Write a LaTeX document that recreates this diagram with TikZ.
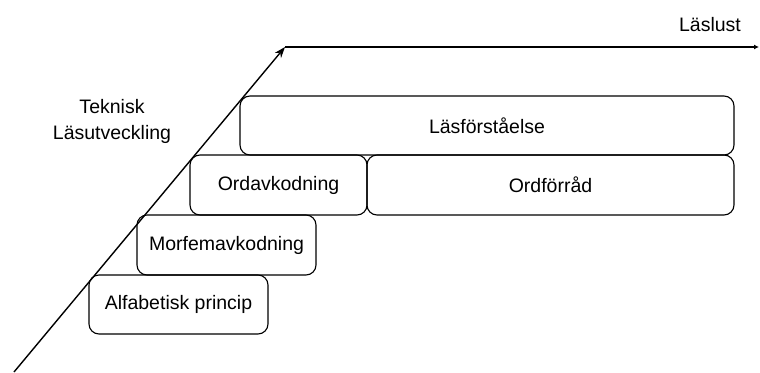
\documentclass[tikz,border=0pt]{standalone}
\usepackage{fontspec}
\setmainfont{Liberation Sans}
\usetikzlibrary{arrows.meta}
\begin{document}
\begin{tikzpicture}[x=1pt,y=-1pt,
  stepbox/.style={draw=black,line width=1.1pt,rounded corners=10pt,inner sep=0pt,
    font=\fontsize{19.5}{23}\selectfont},
  lbl/.style={inner sep=0pt,font=\fontsize{19.5}{26}\selectfont,align=center},
  axis/.style={line width=1.4pt}]
\useasboundingbox (0,0) rectangle (760,372);
\node[stepbox,minimum width=494pt,minimum height=59pt] (L) at (487,125.5) {Läsförståelse};
\node[stepbox,minimum width=177pt,minimum height=60pt] (O) at (278.5,185) {Ordavkodning};
\node[stepbox,minimum width=367pt,minimum height=60pt] (F) at (550.5,185) {Ordförråd};
\node[stepbox,minimum width=179pt,minimum height=60pt] (M) at (226.5,245) {Morfemavkodning};
\node[stepbox,minimum width=179pt,minimum height=59pt] (A) at (178.5,304.5) {Alfabetisk princip};
\node[lbl] (T) at (112,121) {Teknisk\\Läsutveckling};
\node[lbl] (LL) at (710,25) {Läslust};
\coordinate (s) at (14,372);
\coordinate (t) at (285,47);
\coordinate (e) at (759,47);
\draw[axis,-{Stealth[length=11pt,width=8pt]}] (s) -- (t);
\draw[line width=1.1pt,-{Latex[length=5pt,width=5pt]}] (t) -- (e);
\end{tikzpicture}
\end{document}
